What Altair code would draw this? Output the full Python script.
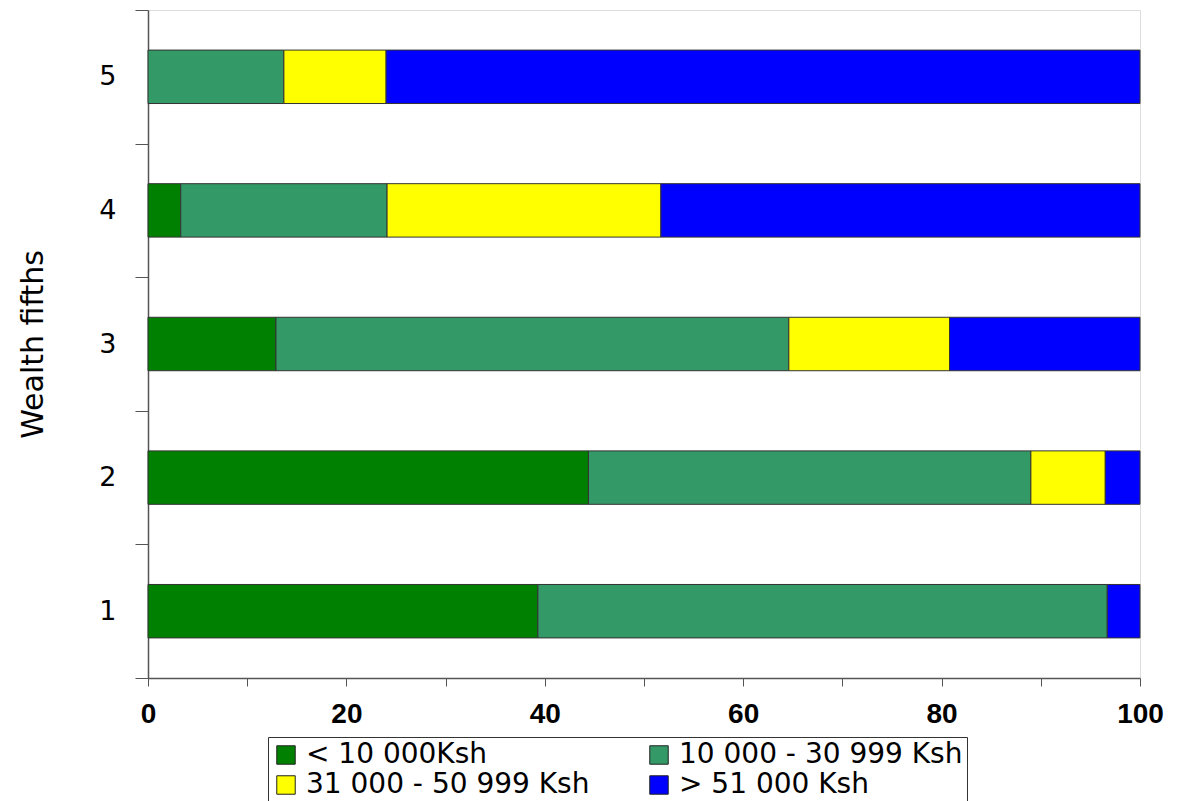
import altair as alt
import pandas as pd

fifths = ["1", "2", "3", "4", "5"]
categories = ["< 10 000Ksh", "10 000 - 30 999 Ksh", "31 000 - 50 999 Ksh", "> 51 000 Ksh"]
colors = ["#008000", "#339966", "#FFFF00", "#0000FF"]
lt10 = [39.3, 44.4, 12.9, 3.3, 0.0]
r10_30 = [57.4, 44.6, 51.7, 20.8, 13.7]
r31_50 = [0.0, 7.5, 16.2, 27.6, 10.3]
gt51 = [3.3, 3.5, 19.2, 48.3, 76.0]

series = [lt10, r10_30, r31_50, gt51]
rows = []
for ci, (cat, vals) in enumerate(zip(categories, series)):
    for f, v in zip(fifths, vals):
        if v > 0:
            rows.append({"fifth": f, "category": cat, "order": ci, "value": v})
df = pd.DataFrame(rows)

FONT = "DejaVu Sans"

chart = alt.Chart(df).mark_bar(
    height=alt.RelativeBandSize(0.4), stroke="#333333", strokeWidth=1
).encode(
    x=alt.X("value:Q", stack="zero",
            scale=alt.Scale(domain=[0, 100], nice=False),
            axis=alt.Axis(values=list(range(0, 101, 10)),
                          labelExpr="datum.value % 20 == 0 ? datum.label : ''",
                          title=None, grid=False, tickSize=8, tickColor="#555555",
                          domainColor="#555555", domainWidth=1.5, tickWidth=1,
                          labelFont="Liberation Sans", labelFontWeight="bold",
                          labelFontSize=28, labelColor="black", labelPadding=14,
                          labelFlush=False)),
    y=alt.Y("fifth:N", sort="descending",
            scale=alt.Scale(domain=["5", "4", "3", "2", "1"], paddingInner=0, paddingOuter=0),
            axis=alt.Axis(title="Wealth fifths", tickBand="extent", tickSize=13,
                          tickColor="#555555", domainColor="#555555", domainWidth=1.5,
                          labelFont=FONT, labelFontSize=27, labelColor="black",
                          labelPadding=19, labelAngle=0,
                          titleFont=FONT, titleFontSize=30, titleFontWeight="normal",
                          titleColor="black", titleAngle=270, titleX=-115, titleY=334,
                          titleAlign="center", titleBaseline="middle")),
    color=alt.Color("category:N",
                    scale=alt.Scale(domain=categories, range=colors),
                    legend=alt.Legend(title=None, orient="none", legendX=120, legendY=727,
                                      columns=2, direction="horizontal",
                                      symbolType="square", symbolSize=340,
                                      symbolStrokeColor="#222222", symbolStrokeWidth=1,
                                      labelFont=FONT, labelFontSize=28, labelColor="black",
                                      labelLimit=500, labelOffset=6,
                                      columnPadding=55, rowPadding=2,
                                      strokeColor="#333333", padding=4)),
    order=alt.Order("order:Q"),
).properties(
    width=992, height=668,
    padding={"left": 148, "top": 10, "right": 43, "bottom": 123},
    autosize=alt.AutoSizeParams(type="none"),
).configure_view(stroke=None).configure(background="white")

chart.save("out.html", embed_options={"renderer": "svg", "actions": False})
